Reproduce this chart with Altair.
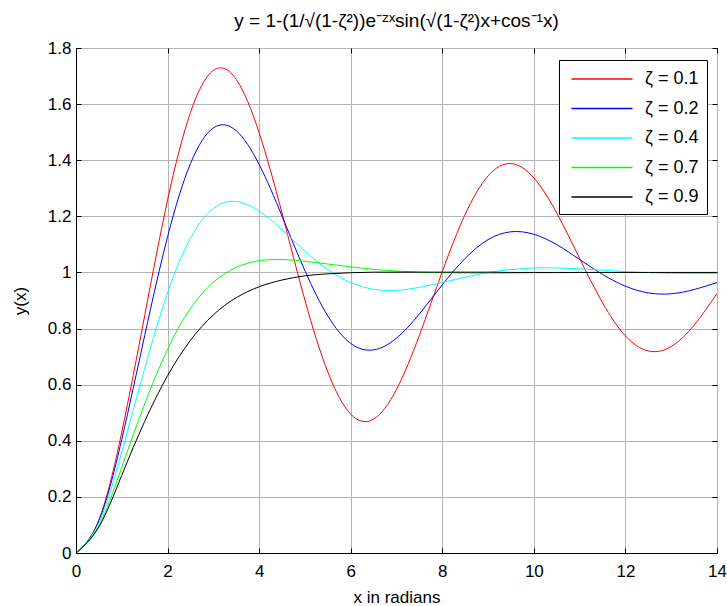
import altair as alt
import pandas as pd

# x positions (radians) at which the curves were read
x_rad = [0, 0.5, 1, 1.5, 2, 2.5, 3, 3.5, 4, 4.5, 5, 5.5, 6, 6.5, 7,
         7.5, 8, 8.5, 9, 9.5, 10, 10.5, 11, 11.5, 12, 12.5, 13, 13.5, 14]

z01 = [0, 0.118, 0.431, 0.846, 1.258, 1.570, 1.720, 1.688, 1.498, 1.211,
       0.901, 0.645, 0.495, 0.477, 0.583, 0.776, 1.003, 1.207, 1.344, 1.388,
       1.337, 1.212, 1.050, 0.892, 0.774, 0.720, 0.736, 0.812, 0.925]
z02 = [0, 0.115, 0.405, 0.775, 1.127, 1.388, 1.515, 1.505, 1.385, 1.201,
       1.006, 0.845, 0.747, 0.724, 0.766, 0.852, 0.956, 1.050, 1.117, 1.145,
       1.136, 1.099, 1.046, 0.993, 0.951, 0.927, 0.924, 0.939, 0.964]
z04 = [0, 0.108, 0.360, 0.658, 0.927, 1.122, 1.228, 1.253, 1.219, 1.152,
       1.076, 1.010, 0.964, 0.940, 0.936, 0.947, 0.964, 0.983, 1.000, 1.010,
       1.016, 1.016, 1.013, 1.008, 1.003, 0.999, 0.997, 0.996, 0.996]
z07 = [0, 0.098, 0.306, 0.531, 0.726, 0.871, 0.965, 1.018, 1.042, 1.046,
       1.040, 1.030, 1.020, 1.011, 1.005, 1.001, 0.999, 0.998, 0.998, 0.998,
       0.999, 0.999, 1.000, 1.000, 1.000, 1.000, 1.000, 1.000, 1.000]
z09 = [0, 0.093, 0.277, 0.469, 0.632, 0.758, 0.849, 0.910, 0.949, 0.973,
       0.988, 0.995, 0.999, 1.001, 1.001, 1.001, 1.001, 1.001, 1.001, 1.000,
       1.000, 1.000, 1.000, 1.000, 1.000, 1.000, 1.000, 1.000, 1.000]

labels = ["ζ = 0.1", "ζ = 0.2", "ζ = 0.4", "ζ = 0.7", "ζ = 0.9"]
colors = ["#ff0000", "#0000ff", "#00ffff", "#00ff00", "#000000"]
x_ticks = [0, 2, 4, 6, 8, 10, 12, 14]
y_ticks = [0, 0.2, 0.4, 0.6, 0.8, 1, 1.2, 1.4, 1.6, 1.8]

title_text = "y = 1-(1/√(1-ζ²))e⁻ᶻˣsin(√(1-ζ²)x+cos⁻¹x)"

rows = []
for lab, ys in zip(labels, [z01, z02, z04, z07, z09]):
    for i, (xv, yv) in enumerate(zip(x_rad, ys)):
        rows.append({"x": xv, "y": yv, "series": lab, "i": i})
df = pd.DataFrame(rows)

FONT = "Liberation Sans"
GRID = "#b4b4b4"
xs = alt.Scale(domain=[0, 14], nice=False, zero=False)
ysc = alt.Scale(domain=[0, 1.8], nice=False, zero=False)

main = alt.Chart(df).mark_line(strokeWidth=1, interpolate="natural", clip=True).encode(
    x=alt.X("x:Q", scale=xs, axis=alt.Axis(
        values=x_ticks, title="x in radians", grid=True, gridColor=GRID,
        domainColor="black", domainWidth=1, ticks=False, labelPadding=10,
        labelFont=FONT, labelFontSize=17, labelColor="black",
        titleFont=FONT, titleFontSize=17, titleFontWeight="normal", titleColor="black",
        titlePadding=10, labelFlush=False, format="~g")),
    y=alt.Y("y:Q", scale=ysc, axis=alt.Axis(
        values=y_ticks, title="y(x)", grid=True, gridColor=GRID,
        domainColor="black", domainWidth=1, ticks=False, labelPadding=5,
        labelFont=FONT, labelFontSize=17, labelColor="black",
        titleFont=FONT, titleFontSize=17, titleFontWeight="normal", titleColor="black",
        titlePadding=18, labelFlush=False, format="~g")),
    color=alt.Color("series:N", scale=alt.Scale(domain=labels, range=colors),
                    legend=alt.Legend(
                        title=None, orient="none", legendX=483, legendY=12,
                        strokeColor="black", fillColor="white", padding=8,
                        symbolType="M-3.05,0H3.05", symbolSize=400, symbolStrokeWidth=1.4,
                        symbolOffset=24, labelOffset=32, rowPadding=9.5,
                        labelFont=FONT, labelFontSize=18, labelColor="black")),
    order="i:Q",
)

ticks_tr = alt.Chart(df).mark_point(opacity=0).encode(
    x=alt.X("x:Q", scale=xs, axis=alt.Axis(
        orient="top", values=x_ticks, labels=False, domain=False, grid=False,
        ticks=True, tickSize=5, tickColor="black", offset=-5, title=None)),
    y=alt.Y("y:Q", scale=ysc, axis=alt.Axis(
        orient="right", values=y_ticks, labels=False, domain=False, grid=False,
        ticks=True, tickSize=5, tickColor="black", offset=-5, title=None)),
)

ticks_bl = alt.Chart(df).mark_point(opacity=0).encode(
    x=alt.X("x:Q", scale=xs, axis=alt.Axis(
        orient="bottom", values=x_ticks, labels=False, domain=False, grid=False,
        ticks=True, tickSize=5, tickColor="black", offset=-5, title=None)),
    y=alt.Y("y:Q", scale=ysc, axis=alt.Axis(
        orient="left", values=y_ticks, labels=False, domain=False, grid=False,
        ticks=True, tickSize=5, tickColor="black", offset=-5, title=None)),
)

chart = alt.layer(main, ticks_tr, ticks_bl).resolve_axis(
    x="independent", y="independent"
).properties(
    width=641, height=505,
    title=alt.TitleParams(text=title_text, font=FONT, fontSize=19,
                          fontWeight="normal", color="black", offset=8, anchor="middle"),
    autosize=alt.AutoSizeParams(type="none"),
    padding={"left": 76, "top": 48, "right": 10, "bottom": 53},
).configure_view(stroke=None).configure(background="white")

chart.save("out.html", embed_options={"renderer": "svg", "actions": False})
